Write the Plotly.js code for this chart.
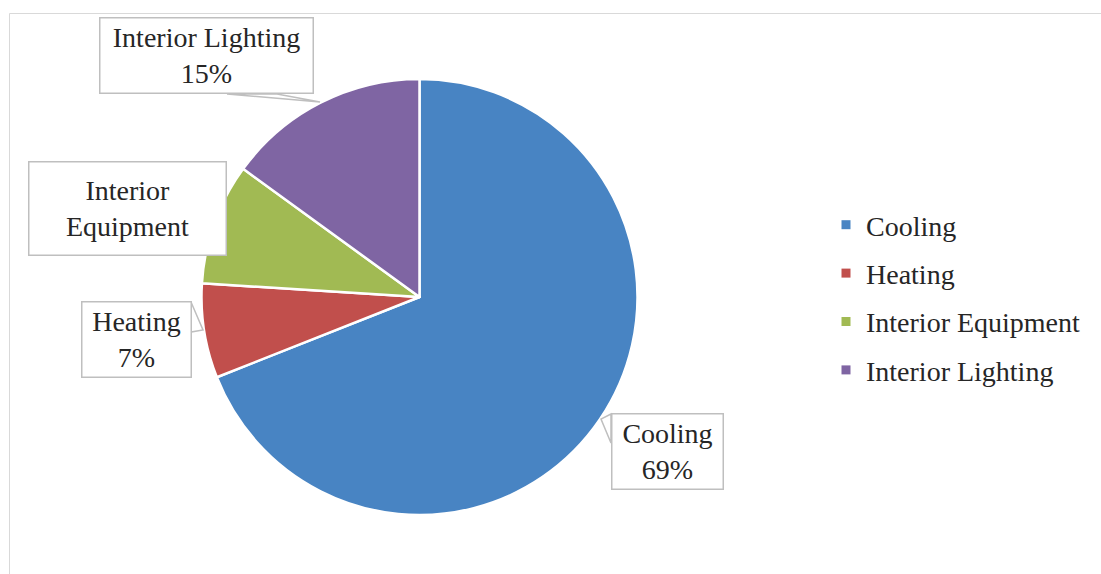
<!DOCTYPE html>
<html>
<head>
<meta charset="utf-8">
<script src="https://cdn.plot.ly/plotly-3.0.1.min.js"></script>
<style>html,body{margin:0;padding:0;background:#fff;}#chart{width:1101px;height:574px;}</style>
</head>
<body>
<div id="chart"></div>
<script>
// ---- data ----
var categories = ["Cooling", "Heating", "Interior Equipment", "Interior Lighting"];
var shares = [69, 7, 9, 15];
var colors = ["#4884C3", "#C14F4C", "#A1BA53", "#7F65A3"];
// label text shown on callouts (Interior Equipment shows no percentage in the source)
var calloutText = ["Cooling<br>69%", "Heating<br>7%", "Interior<br>Equipment", "Interior Lighting<br>15%"];

var W = 1101, H = 574;
function px(x) { return x / W; }
function py(y) { return 1 - y / H; }

var FONT = "Liberation Serif, Times New Roman, serif";
var TXT = "#262626";

var traces = [{
  type: "pie",
  labels: categories,
  values: shares,
  sort: false,
  direction: "clockwise",
  rotation: 0,
  textinfo: "none",
  hoverinfo: "label+percent",
  showlegend: false,
  marker: { colors: colors, line: { color: "#ffffff", width: 2.5 } },
  domain: { x: [px(201.5), px(637.5)], y: [py(515), py(79)] }
}];

// legend entries (one per category)
categories.forEach(function (c, i) {
  traces.push({
    type: "scatter", mode: "markers", x: [null], y: [null],
    name: c, legendgroup: "g" + i, showlegend: true,
    marker: { symbol: "square", size: 9, color: colors[i] },
    hoverinfo: "skip"
  });
});

// callout boxes: [cx, cy, w, h]
var boxes = [
  [667, 451, 112, 76],
  [136, 339, 110, 76],
  [127, 208, 198, 94],
  [206, 56, 214, 76]
];
var annotations = calloutText.map(function (t, i) {
  var b = boxes[i];
  return {
    xref: "paper", yref: "paper", x: px(b[0]), y: py(b[1]),
    xanchor: "center", yanchor: "middle", showarrow: false,
    text: t, align: "center", valign: "middle",
    width: b[2] - 2, height: b[3] - 2, borderpad: 0,
    bgcolor: "#ffffff", bordercolor: "#BFBFBF", borderwidth: 1.5,
    font: { family: FONT, size: 28, color: TXT }
  };
});

// callout tails (triangles)
function tri(p) {
  return "M" + px(p[0][0]) + "," + py(p[0][1]) + " L" + px(p[1][0]) + "," + py(p[1][1]) +
    " L" + px(p[2][0]) + "," + py(p[2][1]) + " Z";
}
var tails = [
  [[611, 414], [601, 419], [611, 443]],
  [[191, 302], [203, 330], [191, 332]],
  [[227, 94], [320, 102], [277, 94]]
];
var shapes = [{
  type: "rect", xref: "paper", yref: "paper",
  x0: px(9.5), x1: 1.2, y0: -0.2, y1: py(13.5),
  line: { color: "#D9D9D9", width: 1 }, fillcolor: "rgba(0,0,0,0)", layer: "below"
}];
tails.forEach(function (t) {
  shapes.push({
    type: "path", xref: "paper", yref: "paper", path: tri(t),
    line: { color: "#BFBFBF", width: 1.5 }, fillcolor: "#ffffff", layer: "above"
  });
});

var layout = {
  width: W, height: H,
  margin: { l: 0, r: 0, t: 0, b: 0 },
  paper_bgcolor: "#ffffff", plot_bgcolor: "rgba(0,0,0,0)",
  xaxis: { visible: false, range: [0, 1] },
  yaxis: { visible: false, range: [0, 1] },
  showlegend: true,
  legend: {
    x: px(826), y: py(200), xanchor: "left", yanchor: "top",
    traceorder: "grouped", tracegroupgap: 9,
    font: { family: FONT, size: 28, color: TXT },
    bgcolor: "rgba(0,0,0,0)", itemclick: false, itemdoubleclick: false
  },
  shapes: shapes,
  annotations: annotations
};

Plotly.newPlot("chart", traces, layout, { staticPlot: true, displayModeBar: false });
</script>
</body>
</html>
